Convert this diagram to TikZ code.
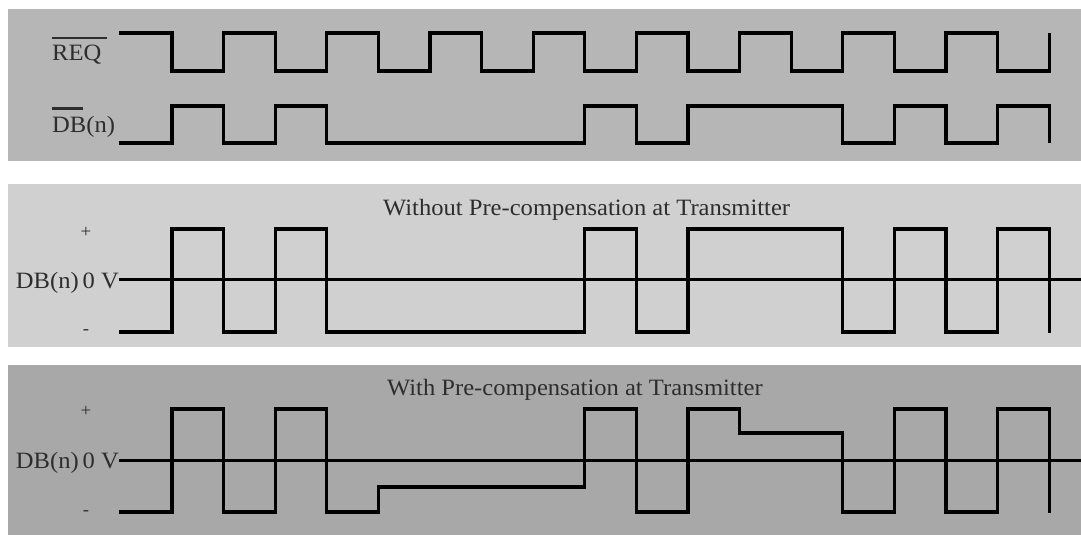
\documentclass[tikz,border=0pt]{standalone}
\usepackage{fontspec}
\setmainfont{Liberation Serif}[FakeStretch=1.05]
\definecolor{panelA}{RGB}{182,182,182}
\definecolor{panelB}{RGB}{208,208,208}
\definecolor{panelC}{RGB}{168,168,168}
\definecolor{txt}{RGB}{45,45,45}
\tikzset{
  sig/.style={line width=3.3pt, line join=miter, line cap=butt, black},
  zero/.style={line width=3pt, black},
  lbl/.style={inner sep=0pt, text=txt, font=\fontsize{23.4}{26}\selectfont},
  pm/.style={inner sep=0pt, text=txt, font=\fontsize{18}{20}\selectfont},
  bar/.style={line width=2.2pt, txt}
}
\begin{document}
\begin{tikzpicture}[x=1pt,y=-1pt]
\useasboundingbox (0,0) rectangle (1081,535);
\fill[white] (0,0) rectangle (1081,535);
% panels
\fill[panelA] (8,9) rectangle (1081,161);
\fill[panelB] (8,184) rectangle (1081,347);
\fill[panelC] (8,365) rectangle (1081,535);

% ---------- panel 1 ----------
\node[lbl, anchor=base west] (req) at (52,60) {REQ};
\draw[bar] (52,38) -- (107,38);
\node[lbl, anchor=base west] (dbbar) at (52,132) {DB(n)};
\draw[bar, line width=3pt] (52,108) -- (83,108);

\draw[sig] (119,33) -| (172,71) -| (223.6,33) -| (275.2,71) -| (326.8,33)
  -| (378.4,71) -| (430,33) -| (481.6,71) -| (533.2,33) -| (584.8,71)
  -| (636.4,33) -| (688,71) -| (739.6,33) -| (791.2,71) -| (842.8,33)
  -| (894.4,71) -| (946,33) -| (997.6,71) -| (1049.2,33);

\draw[sig] (119,143) -| (172,106) -| (223.6,143) -| (275.2,106) -| (326.8,143)
  -| (584.8,106) -| (636.4,143) -| (688,106) -| (842.8,143) -| (894.4,106)
  -| (946,143) -| (997.6,106) -| (1049.2,143);

% ---------- panel 2 ----------
\node[lbl, anchor=base west] (t2) at (383,215) {Without Pre-compensation at Transmitter};
\node[pm] (p2) at (86,232) {+};
\node[pm] (m2) at (86,332) {-};
\node[lbl, anchor=base east] (db2) at (119,288) {DB(n)\,0 V};
\coordinate (z2a) at (119,279);
\coordinate (z2b) at (1081,279);
\draw[zero] (z2a) -- (z2b);
\draw[sig] (119,332) -| (172,229) -| (223.6,332) -| (275.2,229) -| (326.8,332)
  -| (584.8,229) -| (636.4,332) -| (688,229) -| (842.8,332) -| (894.4,229)
  -| (946,332) -| (997.6,229) -| (1049.2,333);

% ---------- panel 3 ----------
\node[lbl, anchor=base west] (t3) at (387,395) {With Pre-compensation at Transmitter};
\node[pm] (p3) at (86,411) {+};
\node[pm] (m3) at (86,513) {-};
\node[lbl, anchor=base east] (db3) at (119,468) {DB(n)\,0 V};
\coordinate (z3a) at (119,460);
\coordinate (z3b) at (1081,460);
\draw[zero] (z3a) -- (z3b);
\draw[sig] (119,512) -| (172,409) -| (223.6,512) -| (275.2,409) -| (326.8,512)
  -| (378.4,487) -| (584.8,409) -| (636.4,512) -| (688,409) -| (739.6,433)
  -| (842.8,512) -| (894.4,409) -| (946,512) -| (997.6,409) -| (1049.2,513);
\end{tikzpicture}
\end{document}
